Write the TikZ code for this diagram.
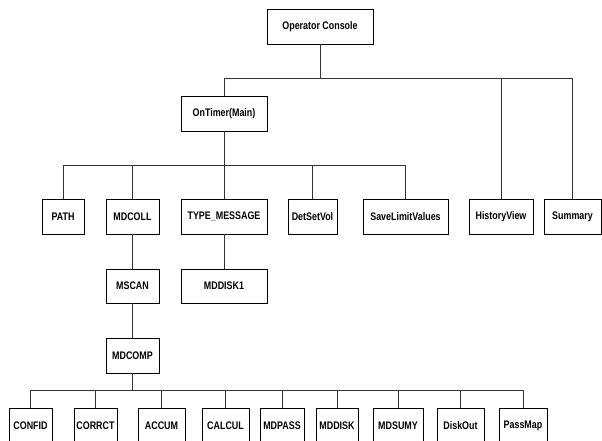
\documentclass[tikz,border=0pt]{standalone}
\usepackage{fontspec}
\setmainfont{Liberation Sans}[FakeStretch=0.81]
\begin{document}
\begin{tikzpicture}[x=1pt,y=-1pt,
  box/.style={draw=black,line width=0.9pt,minimum height=35pt,inner sep=0pt,
    font=\fontsize{11}{13}\selectfont\bfseries,fill=white},
  wire/.style={draw=black!80,line width=0.9pt}]
\clip (0,0) rectangle (602,441);
\fill[white] (0,0) rectangle (602,441);
% nodes
\node[box,minimum width=106pt] (op) at (320,26.5) {Operator Console};
\node[box,minimum width=86pt] (ontimer) at (224,113.5) {OnTimer(Main)};
\node[box,minimum width=42pt] (path) at (63,216.5) {PATH};
\node[box,minimum width=53pt] (mdcoll) at (132.5,216.5) {MDCOLL};
\node[box,minimum width=86pt] (typemsg) at (224,216.5) {TYPE\_MESSAGE};
\node[box,minimum width=49pt] (detsetvol) at (312.5,216.5) {DetSetVol};
\node[box,minimum width=85pt] (savelimit) at (405.5,216.5) {SaveLimitValues};
\node[box,minimum width=64pt] (history) at (501,216.5) {HistoryView};
\node[box,minimum width=57pt] (summary) at (572.5,216.5) {Summary};
\node[box,minimum width=53pt,minimum height=34pt] (mscan) at (132.5,286) {MSCAN};
\node[box,minimum width=86pt,minimum height=34pt] (mddiskone) at (224,286) {MDDISK1};
\node[box,minimum width=53pt] (mdcomp) at (132.5,355.5) {MDCOMP};
\node[box,minimum width=43pt] (confid) at (30.5,425.5) {CONFID};
\node[box,minimum width=43pt] (corrct) at (95.5,425.5) {CORRCT};
\node[box,minimum width=47pt] (accum) at (161.5,425.5) {ACCUM};
\node[box,minimum width=47pt] (calcul) at (225.5,425.5) {CALCUL};
\node[box,minimum width=44pt] (mdpass) at (282,425.5) {MDPASS};
\node[box,minimum width=42pt] (mddisk) at (337,425.5) {MDDISK};
\node[box,minimum width=50pt] (mdsumy) at (398,425.5) {MDSUMY};
\node[box,minimum width=47pt] (diskout) at (460.5,425.5) {DiskOut};
\node[box,minimum width=48pt] (passmap) at (523,425.5) {PassMap};
% bus coordinates
\coordinate (busA) at (0,78);
\coordinate (busB) at (0,165);
\coordinate (busC) at (0,390);
% level 1
\draw[wire] (op.south) -- (op.south |- busA);
\draw[wire] (ontimer.north |- busA) -- (summary.north |- busA);
\foreach \n in {ontimer,history,summary}
  \draw[wire] (\n.north) -- (\n.north |- busA);
% level 2
\draw[wire] (ontimer.south) -- (ontimer.south |- busB);
\draw[wire] (path.north |- busB) -- (savelimit.north |- busB);
\foreach \n in {path,mdcoll,typemsg,detsetvol,savelimit}
  \draw[wire] (\n.north) -- (\n.north |- busB);
% chains
\draw[wire] (mdcoll) -- (mscan);
\draw[wire] (mscan) -- (mdcomp);
\draw[wire] (typemsg) -- (mddiskone);
% bottom level
\draw[wire] (mdcomp.south) -- (mdcomp.south |- busC);
\draw[wire] (confid.north |- busC) -- (passmap.north |- busC);
\foreach \n in {confid,corrct,accum,calcul,mdpass,mddisk,mdsumy,diskout,passmap}
  \draw[wire] (\n.north) -- (\n.north |- busC);
\end{tikzpicture}
\end{document}
